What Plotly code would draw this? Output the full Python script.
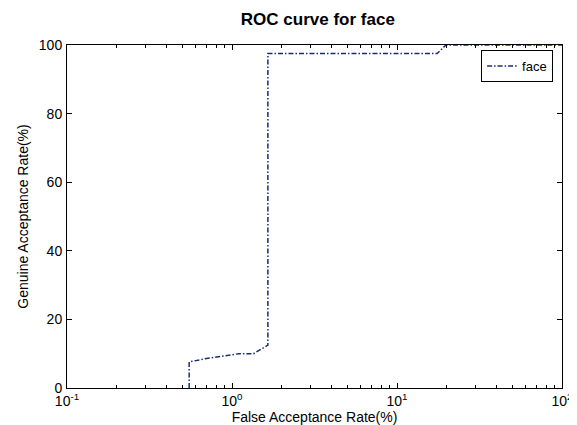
import plotly.graph_objects as go

# ROC points (FAR %, GAR %)
far = [0.55, 0.55, 0.70, 0.90, 1.10, 1.35, 1.65, 1.65, 17.5, 19.8, 100]
gar = [0.0, 7.6, 8.6, 9.5, 10.0, 10.0, 12.5, 97.5, 97.5, 100, 100]

x_ticks = [0.1, 1, 10, 100]
x_labels = ["10<sup>-1</sup>", "10<sup>0</sup>", "10<sup>1</sup>", "10<sup>2</sup>"]
y_ticks = [0, 20, 40, 60, 80, 100]

minor_x = [m * d for d in (0.1, 1, 10) for m in range(2, 10)]

FONT = "Liberation Sans, Arial"

fig = go.Figure(go.Scatter(
    x=far, y=gar, mode="lines", name="face",
    line=dict(color="#1c2a78", width=1.5, dash="5px,2px,1.5px,2px"),
))

axis_common = dict(
    showline=True, linecolor="black", linewidth=1, mirror="ticks",
    ticks="inside", ticklen=5, tickcolor="black", showgrid=False, zeroline=False,
    tickfont=dict(family=FONT, size=14, color="black"),
    ticklabeloverflow="allow",
)

fig.update_layout(
    width=577, height=425,
    margin=dict(l=59, r=15, t=37, b=45),
    paper_bgcolor="white", plot_bgcolor="white",
    title=dict(text="<b>ROC curve for face</b>", x=0.537, xanchor="center", y=0.973, yanchor="middle",
               font=dict(family=FONT, size=17, color="black")),
    xaxis=dict(type="log", range=[-1, 2], tickvals=x_ticks, ticktext=x_labels,
               title=dict(text="False Acceptance Rate(%)", standoff=2,
                          font=dict(family=FONT, size=14, color="black")),
               minor=dict(tickvals=minor_x, ticks="inside", ticklen=3, tickcolor="black"),
               **axis_common),
    yaxis=dict(range=[0, 100], tickvals=y_ticks, ticklabelstandoff=1,
               title=dict(text="Genuine Acceptance Rate(%)", standoff=6,
                          font=dict(family=FONT, size=14, color="black")),
               **axis_common),
    legend=dict(x=0.982, xanchor="right", y=0.985, yanchor="top",
                bordercolor="black", borderwidth=1, bgcolor="white",
                font=dict(family=FONT, size=13, color="black"),
                itemwidth=30, tracegroupgap=0),
    showlegend=True,
)

fig.write_html("out.html")
